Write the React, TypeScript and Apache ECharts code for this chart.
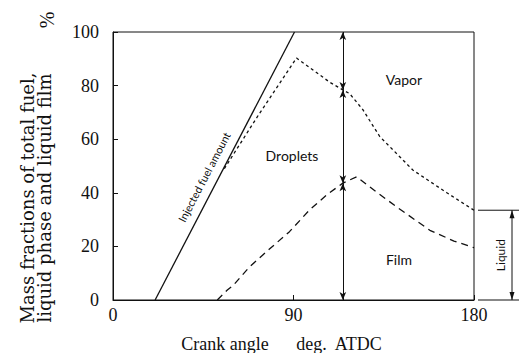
import React, { useEffect, useRef } from "react";
import * as echarts from "echarts";

const xTicks = [0, 90, 180];
const yTicks = [0, 20, 40, 60, 80, 100];
const injected: [number, number][] = [[21, 0], [90.5, 100]];
const droplets: [number, number][] = [
  [55.5, 49], [72.5, 69], [91.5, 90.3], [108, 81.3], [114.6, 78.4], [118, 77],
  [124.6, 71], [133, 61], [149.5, 48.5], [166.5, 40], [180, 33.5],
];
const film: [number, number][] = [
  [52, 0], [57, 3.7], [60, 5.5], [68, 12.3], [78, 19], [88, 25.5], [98, 33.6],
  [107, 39.5], [114.6, 43.6], [121.5, 46], [131, 40.5], [141.5, 34.7],
  [158, 26], [170, 22], [180, 19.5],
];
const arrowX = 114.6;
const arrowLevels = [100, 78.4, 43.6, 0];
const liquidEnd = droplets[droplets.length - 1][1];

const serif = "'Liberation Serif', 'DejaVu Serif', serif";
const wideSerif = "'DejaVu Serif', 'Liberation Serif', serif";
const sans = "Lato, 'Open Sans', 'DejaVu Sans', sans-serif";

export default function App() {
  const ref = useRef<HTMLDivElement>(null);
  useEffect(() => {
    if (!ref.current) return;
    const chart = echarts.init(ref.current, null, { renderer: "svg" });
    const arrowSegs = arrowLevels.slice(0, -1).map((v, i) => [
      { coord: [arrowX, v] },
      { coord: [arrowX, arrowLevels[i + 1]] },
    ]);
    chart.setOption({
      animation: false,
      grid: { left: 113, right: 45, top: 32, bottom: 53, show: true, borderColor: "#111", borderWidth: 1 },
      xAxis: {
        type: "value", min: 0, max: 180, interval: 90,
        axisLine: { lineStyle: { color: "#111", width: 1 } },
        axisTick: { inside: true, length: 5, lineStyle: { color: "#111" } },
        axisLabel: { color: "#111", fontFamily: serif, fontSize: 18, margin: 6,
          formatter: (v: number) => (xTicks.includes(v) ? String(v) : "") },
        splitLine: { show: false },
      },
      yAxis: {
        type: "value", min: 0, max: 100, interval: 20,
        axisLine: { show: true, lineStyle: { color: "#111", width: 1 } },
        axisTick: { show: true, inside: true, length: 5, lineStyle: { color: "#111" } },
        axisLabel: { color: "#111", fontFamily: serif, fontSize: 18, margin: 14,
          formatter: (v: number) => (yTicks.includes(v) ? String(v) : "") },
        splitLine: { show: false },
      },
      series: [
        { type: "line", data: injected, symbol: "none", lineStyle: { color: "#111", width: 1.3 } },
        { type: "line", data: droplets, symbol: "none", lineStyle: { color: "#111", width: 1.3, type: [3, 3] } },
        {
          type: "line", data: film, symbol: "none", lineStyle: { color: "#111", width: 1.3, type: [7, 5] },
          markLine: {
            silent: true, symbol: ["arrow", "arrow"], symbolSize: [5, 8],
            lineStyle: { color: "#111", width: 1, type: "solid" },
            label: { show: false }, data: arrowSegs,
          },
        },
      ],
    });
    const yTop = chart.convertToPixel({ yAxisIndex: 0 }, liquidEnd) as number;
    const yBot = chart.convertToPixel({ yAxisIndex: 0 }, 0) as number;
    const xR = chart.convertToPixel({ xAxisIndex: 0 }, 180) as number;
    const ax = xR + 38;
    const txt = (text: string, x: number, y: number, font: string, size: number, rotation = 0, lh = 18) => ({
      type: "text", x, y, rotation,
      style: { text, fill: "#111", fontFamily: font, fontSize: size, align: "center", verticalAlign: "middle", lineHeight: lh },
    });
    chart.setOption({
      graphic: [
        txt("Mass fractions of total fuel,\nliquid phase and liquid film", 36, 198, wideSerif, 18, Math.PI / 2, 17),
        txt("%", 47, 20, serif, 20, Math.PI / 2),
        txt("Crank angle", 225, 344, serif, 18),
        txt("deg.  ATDC", 339, 344, serif, 18),
        txt("Vapor", 404, 79, sans, 14),
        txt("Droplets", 292, 155, sans, 14),
        txt("Film", 399, 259, sans, 14),
        txt("Injected fuel amount", 204, 177, sans, 11, (62.4 * Math.PI) / 180),
        txt("Liquid", ax - 12, (yTop + yBot) / 2, sans, 12, Math.PI / 2),
        { type: "line", shape: { x1: xR + 4, y1: yTop, x2: 519, y2: yTop }, style: { stroke: "#111", lineWidth: 1 } },
        { type: "line", shape: { x1: xR + 4, y1: yBot, x2: 519, y2: yBot }, style: { stroke: "#111", lineWidth: 1 } },
        { type: "line", shape: { x1: ax, y1: yTop, x2: ax, y2: yBot }, style: { stroke: "#111", lineWidth: 1 } },
        { type: "polygon", shape: { points: [[ax, yTop], [ax - 2.5, yTop + 8], [ax + 2.5, yTop + 8]] }, style: { fill: "#111" } },
        { type: "polygon", shape: { points: [[ax, yBot], [ax - 2.5, yBot - 8], [ax + 2.5, yBot - 8]] }, style: { fill: "#111" } },
      ],
    });
    return () => chart.dispose();
  }, []);
  return <div ref={ref} style={{ width: 519, height: 353, position: "absolute", left: 0, top: 0 }} />;
}
